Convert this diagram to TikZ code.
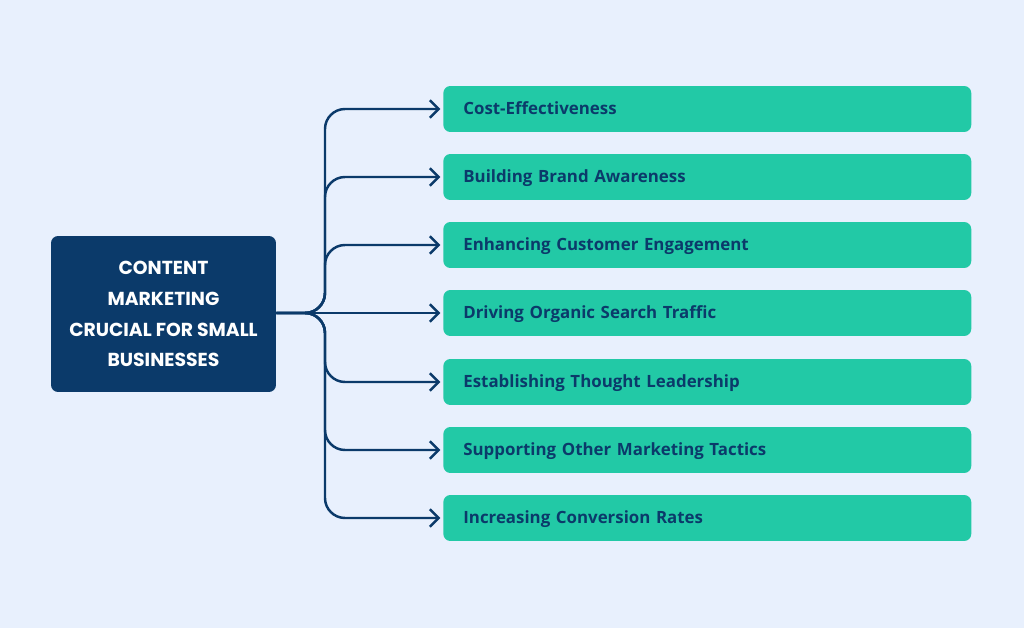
\documentclass[tikz,border=0pt]{standalone}
\usepackage{fontspec}
\setmainfont{Open Sans}
\newfontfamily\titlefont{Poppins}
\usetikzlibrary{arrows.meta, positioning}
\definecolor{bgblue}{HTML}{E8F0FD}
\definecolor{navy}{HTML}{0B3A6A}
\definecolor{teal}{HTML}{22C9A6}

\begin{document}
\begin{tikzpicture}[x=0.02cm, y=-0.02cm,
    hub/.style={fill=navy, rounded corners=4, minimum width=4.5cm, minimum height=3.12cm,
        text=white, align=center, font=\titlefont\bfseries\fontsize{10.7}{17.5}\selectfont},
    item/.style={fill=teal, rounded corners=4, minimum height=0.92cm,
        text=navy, anchor=west, text width=9.76cm, inner xsep=0.4cm, align=left,
        text height=1.6ex, text depth=0.4ex,
        font=\bfseries\fontsize{9.6}{11}\selectfont},
    link/.style={draw=navy, line width=1.4pt, rounded corners=0.4cm,
        -{Straight Barb[length=5pt, width=10pt, line width=1.4pt]}, shorten >=1.5pt}]
    % background
    \fill[bgblue] (0,0) rectangle (1024,628);

    % hub
    \node[hub] (hub) at (163.5,314) {CONTENT\\MARKETING\\CRUCIAL FOR SMALL\\BUSINESSES};

    % items
    \foreach \i/\y/\txt in {1/109/Cost-Effectiveness,
                            2/177/Building Brand Awareness,
                            3/245/Enhancing Customer Engagement,
                            4/313/Driving Organic Search Traffic,
                            5/382/Establishing Thought Leadership,
                            6/450/Supporting Other Marketing Tactics,
                            7/518/Increasing Conversion Rates}
        \node[item] (b\i) at (443,\y) {\txt};

    % connectors
    \coordinate (trunk) at (325,313);
    \foreach \i in {1,2,3,5,6,7}
        \draw[link] (hub.east |- trunk) -- (trunk) |- (b\i.west);
    \draw[link] (hub.east |- trunk) -- (b4.west);
\end{tikzpicture}
\end{document}
